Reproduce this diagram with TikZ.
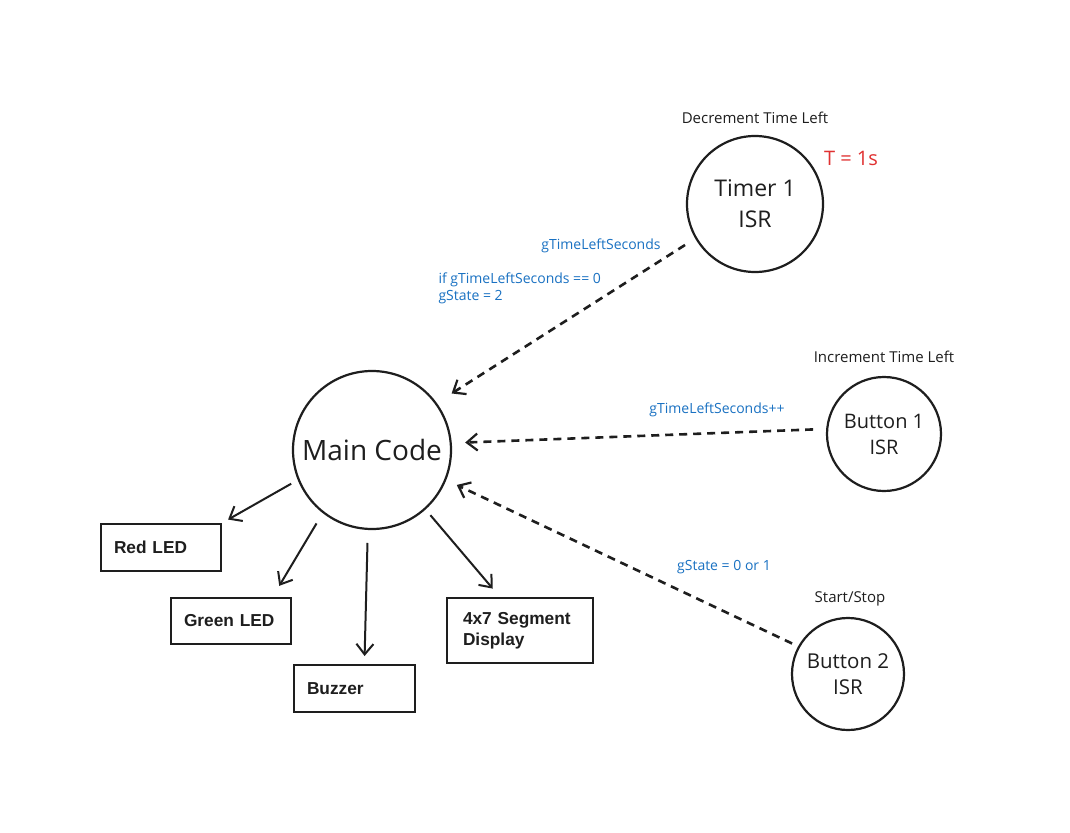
\documentclass[tikz,border=0pt]{standalone}
\usepackage{fontspec}
\setmainfont{Open Sans}
\newfontfamily\boxfont{Liberation Sans}
\usetikzlibrary{arrows.meta}
\definecolor{ink}{HTML}{1E1E1E}
\definecolor{bluelbl}{HTML}{1971C2}
\definecolor{redlbl}{HTML}{E03131}
\tikzset{
  isr/.style={circle, draw=ink, line width=2.2pt, inner sep=0pt, align=center, text=ink},
  outbox/.style={rectangle, draw=ink, line width=2pt, inner ysep=0pt, align=left, text=ink,
    font=\boxfont\bfseries\fontsize{17.3}{21}\selectfont},
  solidarrow/.style={draw=ink, line width=2pt, -{Straight Barb[length=10.5pt,width=17pt,line width=2pt]}},
  dasharrow/.style={draw=ink, line width=2.6pt, dash pattern=on 8pt off 6pt,
    -{Straight Barb[length=10.5pt,width=17pt,line width=2.2pt]}},
  note/.style={text=ink, font=\fontsize{15}{18}\selectfont},
  varlbl/.style={text=bluelbl, font=\fontsize{14}{17}\selectfont},
}
\begin{document}
\begin{tikzpicture}[x=1pt,y=-1pt]
\fill[white] (0,0) rectangle (1070,832);
\useasboundingbox (0,0) rectangle (1070,832);

% circles
\node[isr, minimum size=158pt, font=\fontsize{28}{32}\selectfont] (main) at (372,450) {Main Code};
\node[isr, minimum size=136pt, font=\fontsize{23}{31}\selectfont] (timer) at (755,204) {Timer 1\\ISR};
\node[isr, minimum size=114pt, font=\fontsize{20}{26}\selectfont] (btnA) at (884,434) {Button 1\\ISR};
\node[isr, minimum size=112pt, font=\fontsize{20.5}{26}\selectfont] (btnB) at (848,674) {Button 2\\ISR};

% output boxes
\node[outbox, minimum height=47pt, text width=94pt, inner xsep=13pt] (red) at (161,547.5) {Red LED};
\node[outbox, minimum height=46pt, text width=94pt, inner xsep=13pt] (green) at (231,621) {Green LED};
\node[outbox, minimum height=47pt, text width=95pt, inner xsep=13pt] (buzzer) at (354.5,688.5) {Buzzer};
\node[outbox, minimum height=65pt, text width=114pt, inner xsep=16pt] (seg) at (520,630.5) {4x7 Segment\\Display};

% annotations
\node[note] (tdec) at (755,118) {Decrement Time Left};
\node[text=redlbl, font=\fontsize{20}{24}\selectfont] (tper) at (851,158) {T = 1s};
\node[note] (tinc) at (884,357) {Increment Time Left};
\node[note] (tss) at (850,599) {Start/Stop};

\node[varlbl] (l1) at (601,246) {gTimeLeftSeconds};
\node[varlbl, anchor=west, align=left, font=\fontsize{14}{17}\selectfont] (l2) at (435,288.5) {if gTimeLeftSeconds == 0\\gState = 2};
\node[varlbl] (l3) at (717,410) {gTimeLeftSeconds++};
\node[varlbl] (l4) at (724,567) {gState = 0 or 1};

% outputs
\draw[solidarrow, shorten <=7.5pt, shorten >=7pt] (main.202.4) -- (red.north east);
\draw[solidarrow, shorten <=12pt, shorten >=13pt] (main.232.1) -- (green.30.5);
\draw[solidarrow, shorten <=13pt, shorten >=8pt] (main.267.5) -- (buzzer.68);
\draw[solidarrow, shorten <=7.4pt, shorten >=11pt] (main.312.2) -- (seg.121.6);

% ISR inputs
\draw[dasharrow, shorten <=12pt, shorten >=17.6pt] (timer.210.7) -- (main.36.2);
\draw[dasharrow, shorten <=13pt, shorten >=13.4pt] (btnA.175.9) -- (main.5.6);
\draw[dasharrow, shorten <=6.6pt, shorten >=11.6pt] (btnB.151.4) -- (main.-22);
\end{tikzpicture}
\end{document}
